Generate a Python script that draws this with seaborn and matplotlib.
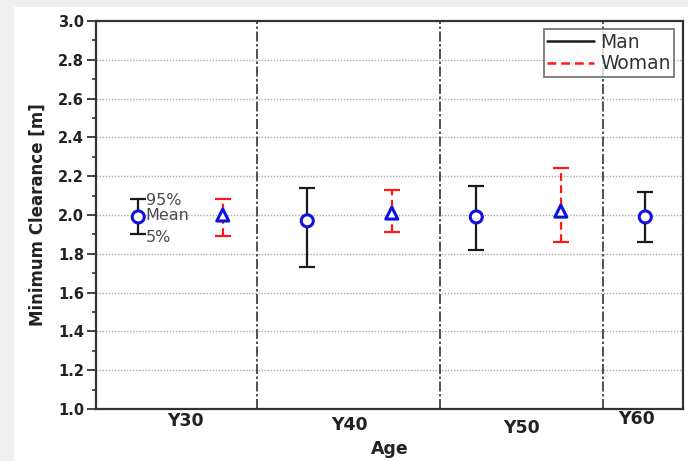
import matplotlib
matplotlib.use("Agg")
import matplotlib.pyplot as plt
import matplotlib.transforms as mtransforms
from matplotlib.lines import Line2D
from matplotlib.patches import Rectangle
import numpy as np
import pandas as pd
import seaborn as sns

# ---- data: minimum clearance [m] per age group (mean, 95th and 5th percentile)
age_groups = ["Y30", "Y40", "Y50", "Y60"]
man_mean = [1.99, 1.97, 1.99, 1.99]
man_p95 = [2.08, 2.14, 2.15, 2.12]
man_p5 = [1.90, 1.73, 1.82, 1.86]

woman_groups = ["Y30", "Y40", "Y50"]
woman_mean = [2.00, 2.01, 2.02]
woman_p95 = [2.08, 2.13, 2.24]
woman_p5 = [1.89, 1.91, 1.86]

# ---- layout (x in group units)
man_offset = 0.25
woman_offset = 0.75
x_limits = (0.0, 3.473)
divider_x = [0.953, 2.036, 2.998]
group_label_x = [0.527, 1.497, 2.52, 3.20]
group_label_y = [-0.030, -0.040, -0.050, -0.025]

sns.set_theme(style="white")
plt.rcParams["font.family"] = ["DejaVu Sans"]

W, H = 688, 461
fig = plt.figure(figsize=(W / 100, H / 100), dpi=100)
fig.patch.set_facecolor("white")

# light grey page border on the left and top
fig.patches.append(Rectangle((0, 0), 14 / W, 1, transform=fig.transFigure,
                             facecolor="#efefef", edgecolor="none", zorder=0))
fig.patches.append(Rectangle((0, 1 - 7 / H), 1, 7 / H, transform=fig.transFigure,
                             facecolor="#efefef", edgecolor="none", zorder=0))

ax = fig.add_axes([96 / W, 1 - 409 / H, 587 / W, 388 / H])
ax.set_facecolor("white")

man_df = pd.DataFrame({
    "pos": [i + man_offset for i in range(len(age_groups))],
    "mean": man_mean, "p95": man_p95, "p5": man_p5, "sex": "Man",
})
woman_df = pd.DataFrame({
    "pos": [age_groups.index(g) + woman_offset for g in woman_groups],
    "mean": woman_mean, "p95": woman_p95, "p5": woman_p5, "sex": "Woman",
})
df = pd.concat([man_df, woman_df], ignore_index=True)

# horizontal dotted grid
for yv in np.arange(1.2, 2.81, 0.2):
    ax.axhline(yv, color="#a8a8a8", lw=1.0, ls=(0, (1, 1.2)), zorder=1)

# dash-dot group dividers
for xv in divider_x:
    ax.axvline(xv, color="#333333", lw=1.2, ls=(0, (6, 1.5, 1.5, 1.5)), zorder=1)

# percentile whiskers
man_eb = ax.errorbar(man_df["pos"], man_df["mean"],
                     yerr=[man_df["mean"] - man_df["p5"], man_df["p95"] - man_df["mean"]],
                     fmt="none", ecolor="#1a1a1a", elinewidth=1.6, capsize=5.5,
                     capthick=1.6, zorder=2)
woman_eb = ax.errorbar(woman_df["pos"], woman_df["mean"],
                       yerr=[woman_df["mean"] - woman_df["p5"], woman_df["p95"] - woman_df["mean"]],
                       fmt="none", ecolor="#ff1a1a", elinewidth=1.6, capsize=5.5,
                       capthick=1.6, zorder=2)
woman_eb[2][0].set_linestyle((0, (3.5, 2)))

# mean markers
sns.scatterplot(data=df, x="pos", y="mean", style="sex",
                markers={"Man": "o", "Woman": "^"}, s=75,
                facecolor="white", edgecolor="#1010e0", linewidth=2.2,
                legend=False, zorder=3, ax=ax)

# explanatory labels next to the first whisker
ann_x = man_df["pos"][0] + 0.045
ax.text(ann_x, man_p95[0] - 0.005, "95%", color="#4a4a4a", fontsize=11.5, va="center", ha="left", zorder=4)
ax.text(ann_x, man_mean[0] + 0.01, "Mean", color="#4a4a4a", fontsize=11.5, va="center", ha="left", zorder=4)
ax.text(ann_x, man_p5[0] - 0.015, "5%", color="#4a4a4a", fontsize=11.5, va="center", ha="left", zorder=4)

# axes scales and ticks
ax.set_xlim(*x_limits)
ax.set_ylim(1.0, 3.0)
ax.set_yticks(np.arange(1.0, 3.01, 0.2))
ax.set_yticklabels([f"{v:.1f}" for v in np.arange(1.0, 3.01, 0.2)],
                   fontsize=10.5, fontweight="bold", color="#222222")
ax.set_yticks(np.arange(1.1, 3.0, 0.2), minor=True)
ax.tick_params(axis="y", which="major", direction="out", length=6.5, width=1.3,
               color="#333333", left=True, pad=2)
ax.tick_params(axis="y", which="minor", direction="out", length=3, width=1.2,
               color="#333333", left=True)
ax.set_xticks([])

blend = mtransforms.blended_transform_factory(ax.transData, ax.transAxes)
for lab, xv, yv in zip(age_groups, group_label_x, group_label_y):
    ax.text(xv, yv, lab, transform=blend, ha="center", va="center",
            fontsize=12.5, fontweight="bold", color="#222222")

ax.set_xlabel("Age", fontsize=12.5, fontweight="bold", color="#222222", labelpad=22)
ax.set_ylabel("Minimum Clearance [m]", fontsize=12, fontweight="bold",
              color="#222222", labelpad=8)

for side in ["left", "right", "top", "bottom"]:
    ax.spines[side].set_visible(True)
    ax.spines[side].set_color("#333333")
    ax.spines[side].set_linewidth(1.6)

handles = [
    Line2D([], [], color="#1a1a1a", lw=1.8, ls="-"),
    Line2D([], [], color="#ff1a1a", lw=1.8, ls=(0, (3.5, 2))),
]
leg = ax.legend(handles, ["Man", "Woman"], loc="upper right",
                bbox_to_anchor=(0.985, 0.979), borderaxespad=0,
                fontsize=13.5, handlelength=2.5, handletextpad=0.3,
                labelspacing=0.12, borderpad=0.2, frameon=True, fancybox=False)
leg.get_frame().set_edgecolor("#555555")
leg.get_frame().set_linewidth(1.3)
for t in leg.get_texts():
    t.set_color("#333333")

fig.savefig("out.png", dpi=100)
